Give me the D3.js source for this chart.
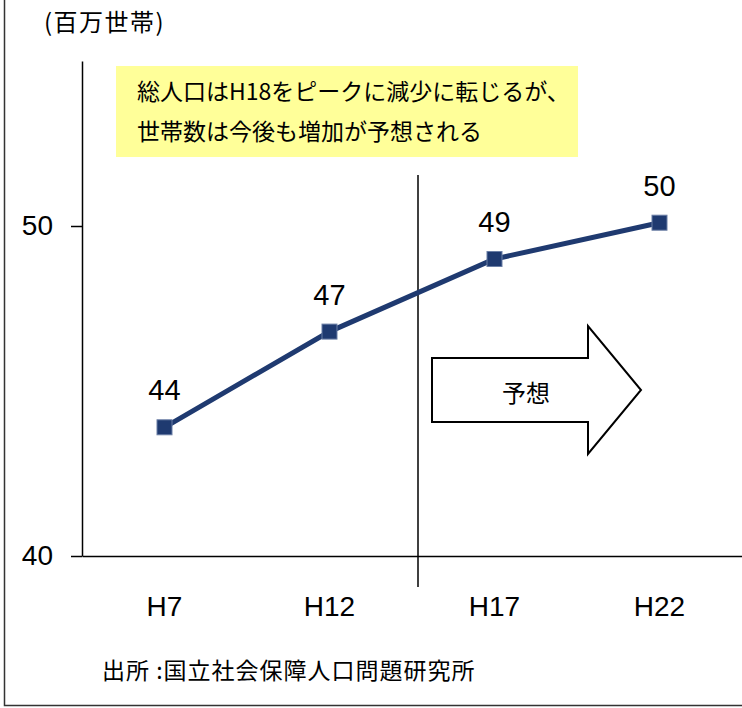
<!DOCTYPE html>
<html>
<head>
<meta charset="utf-8">
<script src="https://cdn.jsdelivr.net/npm/d3@7"></script>
<style>
  body { margin: 0; background: #fff; }
  svg text { font-family: "Liberation Sans", Arial, "Noto Sans CJK JP", sans-serif; }
  .jp { font-family: "Noto Sans CJK JP", "Liberation Sans", sans-serif; }
</style>
</head>
<body>
<div id="chart"></div>
<script>
/* Chart data (millions of households) */
var periods = ["H7", "H12", "H17", "H22"];
var households = [43.9, 46.8, 49.0, 50.1];
var valueLabels = ["44", "47", "49", "50"];
var yTicks = [40, 50];

/* Texts */
var unitLabel = "(百万世帯)";
var calloutLines = ["総人口はH18をピークに減少に転じるが、", "世帯数は今後も増加が予想される"];
var forecastLabel = "予想";
var sourceNote = "出所 :国立社会保障人口問題研究所";

var width = 742, height = 708;
var lineColor = "#1f3a70";

var svg = d3.select("#chart").append("svg")
    .attr("width", width)
    .attr("height", height);

var x = d3.scaleBand()
    .domain(periods)
    .range([82, 742]);

var y = d3.scaleLinear()
    .domain([40, 55])
    .range([556, 61]);

// outer frame (only left and bottom edges show in the crop)
svg.append("path")
    .attr("d", "M4.5,0V705.5H742")
    .attr("fill", "none")
    .attr("stroke", "#333")
    .attr("stroke-width", 1.5);

// unit label
svg.append("text")
    .attr("class", "jp")
    .attr("x", 44)
    .attr("y", 31)
    .style("font-size", "24px")
    .style("letter-spacing", "1.5px")
    .text(unitLabel);

// callout box
svg.append("rect")
    .attr("x", 116)
    .attr("y", 66)
    .attr("width", 462)
    .attr("height", 91)
    .attr("fill", "#ffff99");

svg.selectAll(".callout")
    .data(calloutLines)
    .enter()
    .append("text")
    .attr("class", "jp callout")
    .attr("x", 137)
    .attr("y", function (d, i) { return 100 + i * 40; })
    .style("font-size", "23px")
    .text(function (d) { return d; });

// y axis
var yAxis = d3.axisLeft(y)
    .tickValues(yTicks)
    .tickSize(11)
    .tickSizeOuter(0)
    .tickPadding(18)
    .tickFormat(d3.format("d"));

var gy = svg.append("g")
    .attr("transform", "translate(82,0)")
    .call(yAxis);
gy.select(".domain").attr("stroke", "#000").attr("stroke-width", 1.5);
gy.selectAll(".tick line").attr("stroke", "#000").attr("stroke-width", 1.5);
gy.selectAll(".tick text")
    .attr("fill", "#000")
    .style("font-size", "28px")
    .style("font-family", "'Liberation Sans', Arial, sans-serif");

// x axis
var xAxis = d3.axisBottom(x)
    .tickSize(0)
    .tickSizeOuter(0)
    .tickPadding(40);

var gx = svg.append("g")
    .attr("transform", "translate(0,556)")
    .call(xAxis);
gx.select(".domain").attr("stroke", "#000").attr("stroke-width", 1.5);
gx.selectAll(".tick text")
    .attr("fill", "#000")
    .style("font-size", "28px")
    .style("font-family", "'Liberation Sans', Arial, sans-serif");

// divider between actual and forecast
var divX = x("H17") + 6;
svg.append("line")
    .attr("x1", divX).attr("x2", divX)
    .attr("y1", 175).attr("y2", 587)
    .attr("stroke", "#000")
    .attr("stroke-width", 1.5);

// forecast arrow
svg.append("path")
    .attr("d", "M432,358H588V326L641,390L588,454V422H432Z")
    .attr("fill", "#fff")
    .attr("stroke", "#000")
    .attr("stroke-width", 2);

svg.append("text")
    .attr("class", "jp")
    .attr("x", 526)
    .attr("y", 402)
    .attr("text-anchor", "middle")
    .style("font-size", "24px")
    .text(forecastLabel);

// data line
var data = periods.map(function (p, i) {
    return { period: p, value: households[i], label: valueLabels[i] };
});

var line = d3.line()
    .x(function (d) { return x(d.period) + x.bandwidth() / 2; })
    .y(function (d) { return y(d.value); });

svg.append("path")
    .datum(data)
    .attr("d", line)
    .attr("fill", "none")
    .attr("stroke", lineColor)
    .attr("stroke-width", 5);

var ms = 15;
svg.selectAll(".marker")
    .data(data)
    .enter()
    .append("rect")
    .attr("class", "marker")
    .attr("x", function (d) { return x(d.period) + x.bandwidth() / 2 - ms / 2; })
    .attr("y", function (d) { return y(d.value) - ms / 2; })
    .attr("width", ms)
    .attr("height", ms)
    .attr("fill", lineColor)
    .attr("stroke", "#6b7fa6")
    .attr("stroke-width", 1);

// value labels
svg.selectAll(".vlabel")
    .data(data)
    .enter()
    .append("text")
    .attr("class", "vlabel")
    .attr("x", function (d) { return x(d.period) + x.bandwidth() / 2; })
    .attr("y", function (d) { return y(d.value) - 27; })
    .attr("text-anchor", "middle")
    .style("font-size", "29px")
    .text(function (d) { return d.label; });

// source
svg.append("text")
    .attr("class", "jp")
    .attr("x", 102)
    .attr("y", 679)
    .style("font-size", "23px")
    .style("letter-spacing", "1px")
    .text(sourceNote);
</script>
</body>
</html>
